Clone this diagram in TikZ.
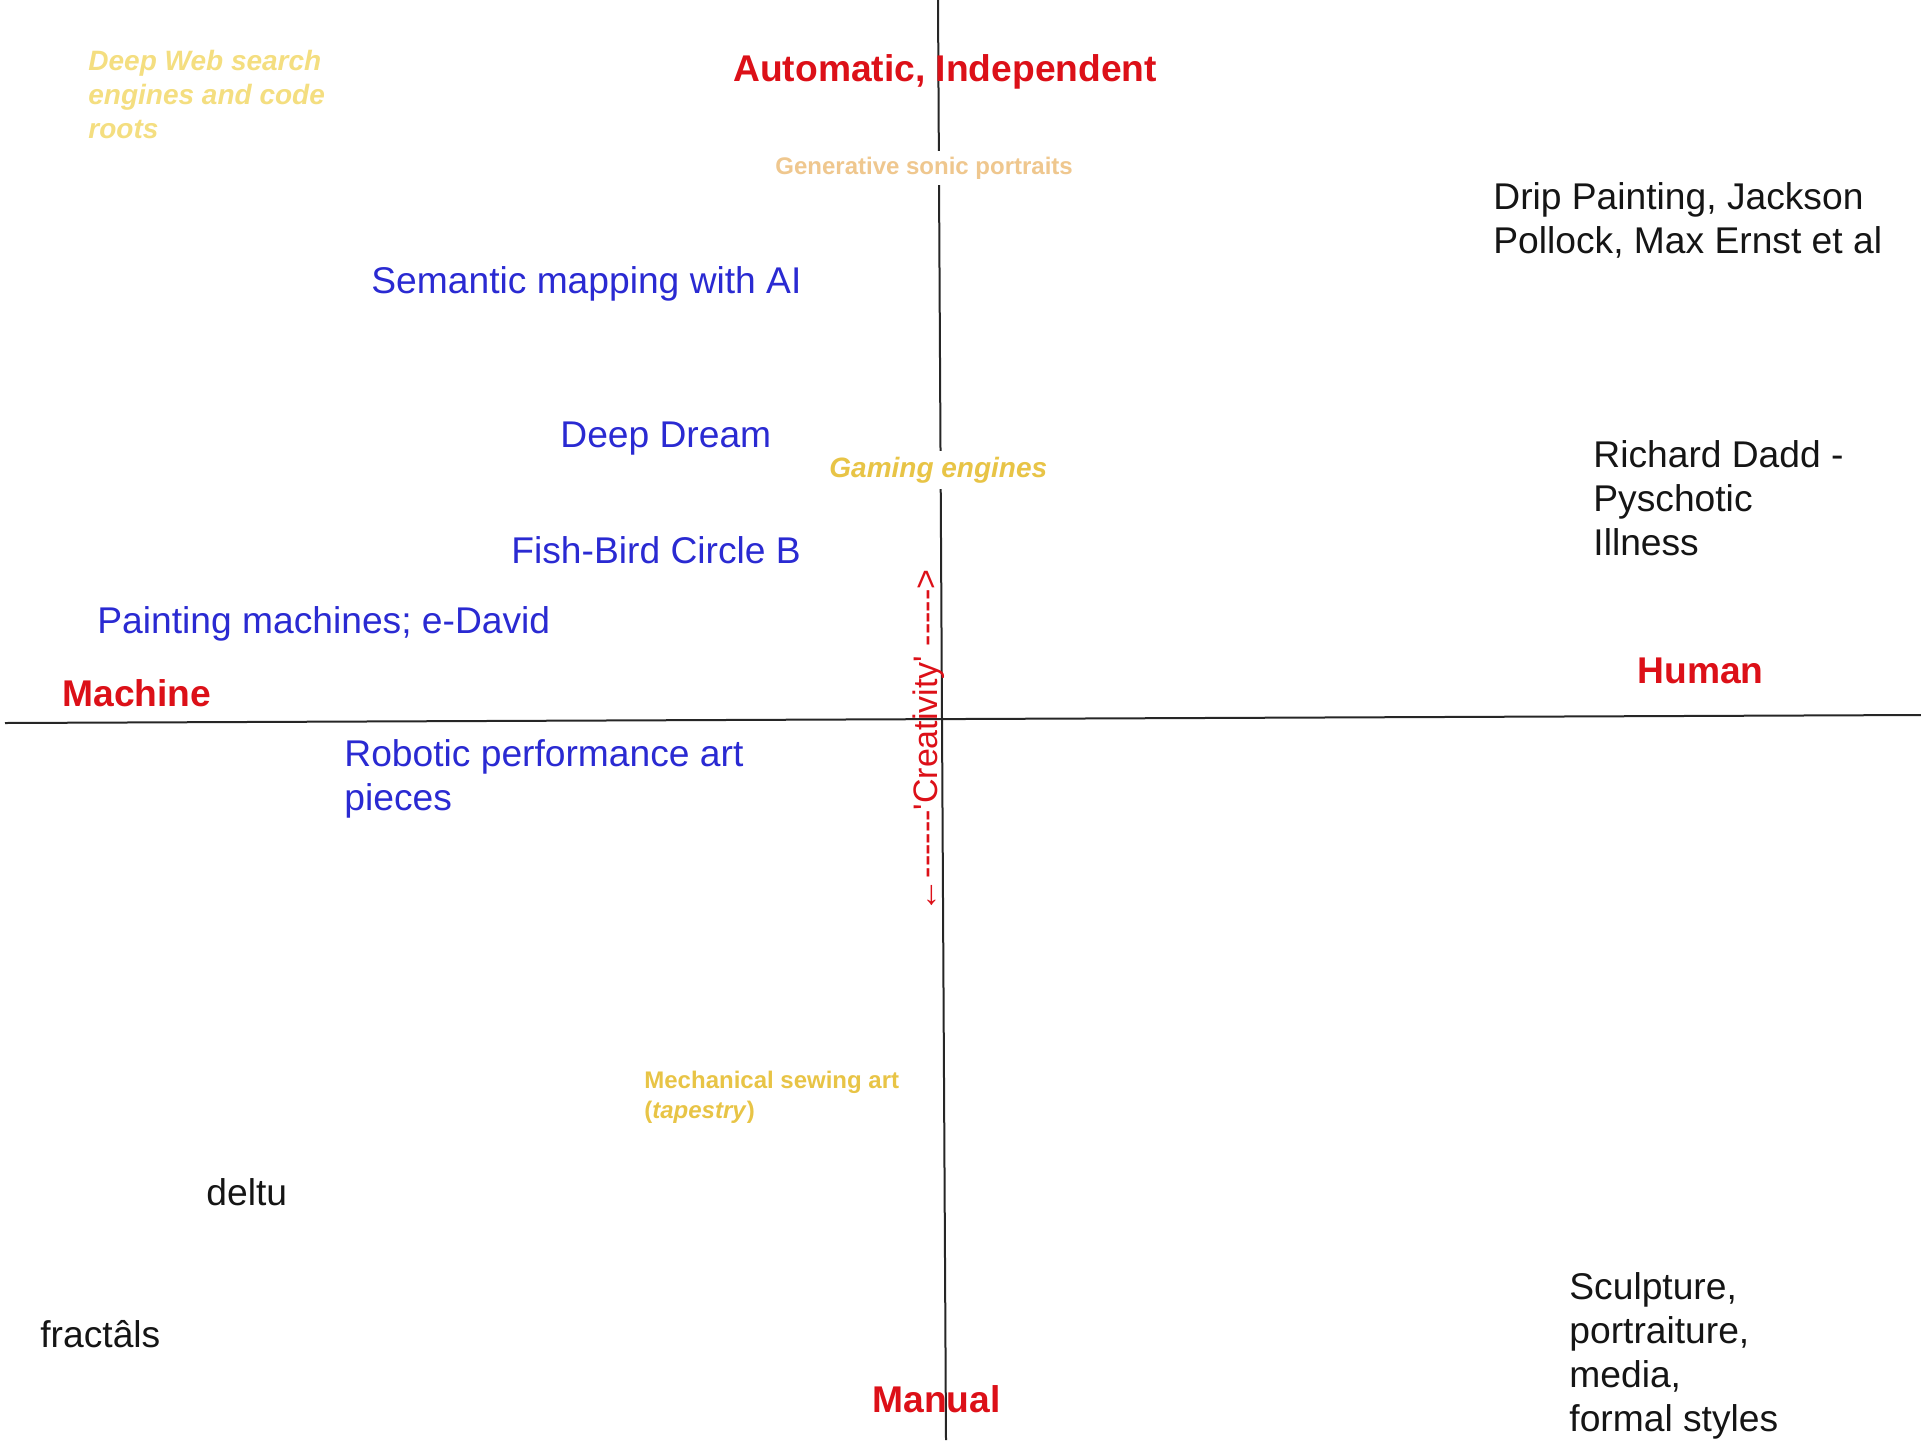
\documentclass[tikz,border=0pt]{standalone}
\usepackage{fontspec}
\setmainfont{Liberation Sans}
\newfontfamily\rawsans{Liberation Sans}[Ligatures=TeXOff]
\usepackage{tikz}
\definecolor{axisred}{HTML}{DC1018}
\definecolor{itemblue}{HTML}{2A2AD2}
\definecolor{itemblack}{HTML}{151515}
\definecolor{gold}{HTML}{E8C446}
\definecolor{palegold}{HTML}{F4DE80}
\definecolor{tan}{HTML}{EFC78E}

\begin{document}
\begin{tikzpicture}[x=0.5pt,y=-0.5pt]
				\tikzset{every node/.style={inner sep=0pt,align=left}}
				\tikzset{pole/.style={text=axisred,font=\bfseries\fontsize{18.6}{22}\selectfont,anchor=west}}
				\tikzset{item/.style={text=itemblue,font=\fontsize{18.6}{22}\selectfont,anchor=west}}
				\tikzset{plain/.style={text=itemblack,font=\fontsize{18.6}{22}\selectfont,anchor=north west}}
				\tikzset{faint/.style={font=\bfseries\fontsize{12}{15}\selectfont}}
				\useasboundingbox (0,0) rectangle (1921,1440);
				% axes
				\coordinate (hleft) at (5,723);
				\coordinate (hright) at (1921,715);
				\coordinate (vtop) at (938,0);
				\coordinate (vbottom) at (946,1440);
				\draw[line width=1pt,black!85] (hleft) -- (hright);
				\draw[line width=1pt,black!85] (vtop) -- (vbottom);
				% poles
				\node[pole] (auto) at (733,72) {Automatic, Independent};
				\node[pole] (machine) at (62,693) {Machine};
				\node[pole] (human) at (1637,671) {Human};
				\node[pole] (manual) at (872,1399) {Manual};
				\node[text=axisred,font=\rawsans\fontsize{17}{20}\selectfont,rotate=90] (creat) at (929,741) {←------'Creativity' ----->};
				% machine side
				\node[item] (semantic) at (371,284) {Semantic mapping with AI};
				\node[item] (dream) at (560,439) {Deep Dream};
				\node[item] (fishbird) at (511,550) {Fish-Bird Circle B};
				\node[item] (emachines) at (97,624) {Painting machines; e-David};
				\node[item,anchor=north west] (robotic) at (344,739) {Robotic performance art\\pieces};
				\node[plain,anchor=west] (deltu) at (206,1192) {deltu};
				\node[plain,anchor=west] (fractals) at (40,1334) {fractâls};
				% human side
				\node[plain] (drip) at (1493,182) {Drip Painting, Jackson\\Pollock, Max Ernst et al};
				\node[plain] (dadd) at (1593,440) {Richard Dadd -\\Pyschotic\\Illness};
				\node[plain] (sculpt) at (1569,1272) {Sculpture,\\portraiture,\\media,\\formal styles};
				% pale notes
				\node[faint,text=palegold,font=\bfseries\itshape\fontsize{14}{17}\selectfont,anchor=north west] (deepweb) at (88,50) {Deep Web search\\engines and code\\roots};
				\node[faint,text=tan,fill=white,inner sep=3pt,anchor=west] (sonic) at (769,168) {Generative sonic portraits};
				\node[faint,text=gold,font=\bfseries\itshape\fontsize{14}{17}\selectfont,fill=white,inner sep=3pt,anchor=west] (gaming) at (823,470) {Gaming engines};
				\node[faint,text=gold,anchor=north west] (sewing) at (644,1071) {Mechanical sewing art\\(\textit{tapestry})};
			\end{tikzpicture}
\end{document}
